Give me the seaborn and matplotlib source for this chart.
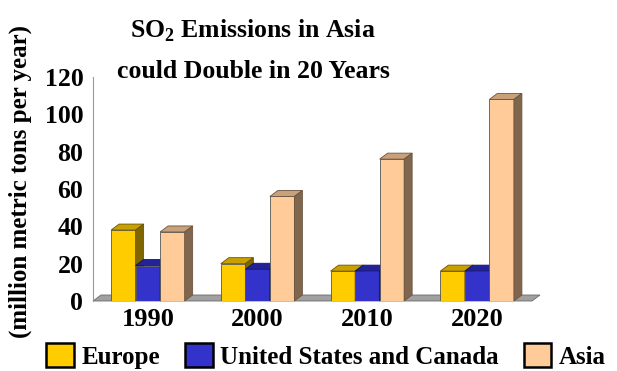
import matplotlib
matplotlib.use('Agg')
import matplotlib.pyplot as plt
from matplotlib.patches import Polygon, Patch
import pandas as pd
import seaborn as sns

years = ['1990', '2000', '2010', '2020']
regions = ['Europe', 'United States and Canada', 'Asia']
europe = [38, 20, 16, 16]
us_canada = [19, 17, 16, 16]
asia = [37, 56, 76, 108]

front = ['#FFCC00', '#3333CC', '#FFCC99']
top = ['#C9A000', '#222299', '#C8A07A']
side = ['#806600', '#1A1A66', '#80664D']
edge = ['#6B5500', '#15155A', '#6B5540']

df = pd.DataFrame({
    'year': years * 3,
    'region': [regions[0]] * 4 + [regions[1]] * 4 + [regions[2]] * 4,
    'value': europe + us_canada + asia,
})

sns.set_style('white')
plt.rcParams['font.family'] = ['Liberation Serif', 'DejaVu Serif']
plt.rcParams['font.weight'] = 'bold'
plt.rcParams['text.color'] = 'black'
plt.rcParams['xtick.color'] = 'black'
plt.rcParams['ytick.color'] = 'black'
plt.rcParams['mathtext.fontset'] = 'custom'
plt.rcParams['mathtext.rm'] = 'Liberation Serif:bold'
plt.rcParams['mathtext.bf'] = 'Liberation Serif:bold'

fig = plt.figure(figsize=(6.17, 3.71), dpi=100)
ax = fig.add_axes([93 / 617, 70 / 371, 439 / 617, 224 / 371])

sns.barplot(data=df, x='year', y='value', hue='region', palette=front,
            saturation=1, width=0.67, legend=False, ax=ax,
            edgecolor='#555555', linewidth=0.6)

ax.set_xlim(-0.5, 3.5)
ax.set_ylim(0, 120)

# fake depth, in data units (about 8 px right, 6 px up)
dx = 8 / (439 / 4)
dy = 6 / (224 / 120)

floor = Polygon([(-0.5, 0), (3.5, 0), (3.5 + dx, dy), (-0.5 + dx, dy)],
                closed=True, facecolor='#A0A0A0', edgecolor='#6A6A6A',
                lw=0.6, zorder=1, clip_on=False)
ax.add_patch(floor)

for i, cont in enumerate(ax.containers):
    for bar in cont:
        x0 = bar.get_x()
        w = bar.get_width()
        h = bar.get_height()
        z = 2 + i
        bar.set_zorder(z)
        ax.add_patch(Polygon([(x0, h), (x0 + w, h), (x0 + w + dx, h + dy), (x0 + dx, h + dy)],
                             closed=True, facecolor=top[i], edgecolor=edge[i], lw=0.6,
                             zorder=z, clip_on=False))
        ax.add_patch(Polygon([(x0 + w, 0), (x0 + w + dx, dy), (x0 + w + dx, h + dy), (x0 + w, h)],
                             closed=True, facecolor=side[i], edgecolor=edge[i], lw=0.6,
                             zorder=z, clip_on=False))

for s in ['top', 'right', 'bottom']:
    ax.spines[s].set_visible(False)
ax.spines['left'].set_color('#999999')
ax.spines['left'].set_linewidth(0.8)

ax.set_yticks(range(0, 121, 20))
ax.tick_params(axis='y', length=0, pad=7, labelsize=18.5)
ax.tick_params(axis='x', length=0, pad=5, labelsize=19)
for lab in ax.get_xticklabels() + ax.get_yticklabels():
    lab.set_fontweight('bold')
ax.set_xlabel('')
ax.set_ylabel('')

fig.text(20 / 617, 0.51, '(million metric tons per year)', rotation=90,
         ha='center', va='center', fontsize=18, fontweight='bold')

fig.text(253 / 617, 1 - 38 / 371, r'SO$_\mathbf{2}$ Emissions in Asia', ha='center',
         va='baseline', fontsize=18.5, fontweight='bold')
fig.text(253 / 617, 1 - 78 / 371, 'could Double in 20 Years', ha='center',
         va='baseline', fontsize=18.5, fontweight='bold')

handles = [Patch(facecolor=front[i], edgecolor='black', lw=1.8) for i in range(3)]
fig.legend(handles, regions, loc='center', bbox_to_anchor=(326 / 617, 15 / 371),
           ncol=3, frameon=False, handlelength=1.1, handleheight=1.1,
           handletextpad=0.3, columnspacing=1.0, borderaxespad=0,
           prop={'weight': 'bold', 'size': 18})

fig.savefig('out.png', dpi=100)
